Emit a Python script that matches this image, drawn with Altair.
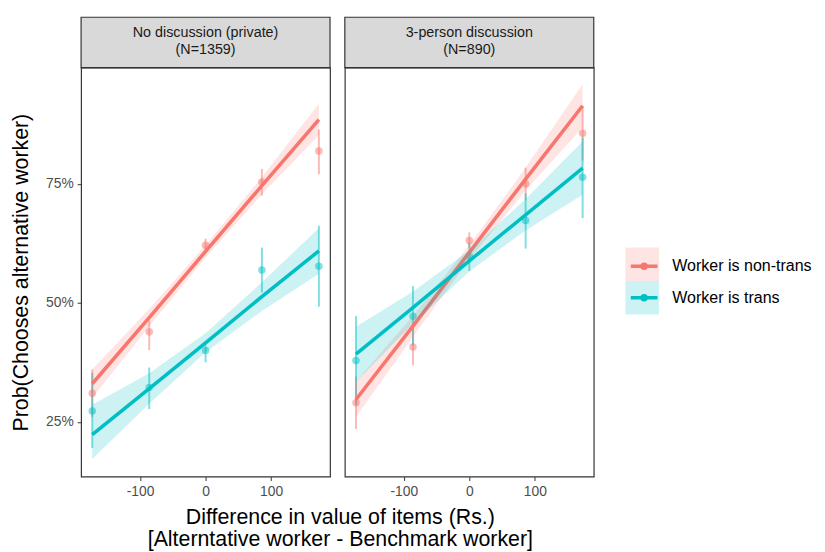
import altair as alt
import pandas as pd

# ---------------- data ----------------
panels = ["No discussion (private)", "3-person discussion"]
panel_n = ["(N=1359)", "(N=890)"]
groups = ["Worker is non-trans", "Worker is trans"]
colors = ["#F8766D", "#00BFC4"]
x_vals = [-173, -86, 0, 86, 173]

# observed shares (%) with intervals
p1_nt_mean = [31.0, 43.9, 62.1, 75.4, 81.9]
p1_nt_lo = [26.0, 40.1, 60.5, 72.5, 77.0]
p1_nt_hi = [36.0, 46.3, 63.5, 78.1, 86.4]
p1_tr_mean = [27.3, 32.2, 40.0, 56.9, 57.7]
p1_tr_lo = [19.5, 27.7, 37.5, 52.2, 49.2]
p1_tr_hi = [35.3, 36.4, 41.1, 61.6, 66.2]
p2_nt_mean = [29.0, 40.7, 63.1, 75.0, 85.6]
p2_nt_lo = [23.5, 36.9, 61.6, 71.6, 79.9]
p2_nt_hi = [34.5, 45.3, 64.8, 78.4, 91.3]
p2_tr_mean = [37.9, 47.2, 59.8, 67.3, 76.4]
p2_tr_lo = [28.6, 41.0, 56.7, 61.4, 67.8]
p2_tr_hi = [47.2, 53.5, 62.6, 73.0, 84.7]

# linear fits (%) with confidence band
p1_nt_fit = [33.0, 46.9, 60.8, 74.6, 88.5]
p1_nt_fit_lo = [30.0, 45.1, 59.5, 72.8, 85.2]
p1_nt_fit_hi = [36.0, 48.7, 62.1, 76.4, 91.8]
p1_tr_fit = [22.3, 32.0, 41.6, 51.3, 60.9]
p1_tr_fit_lo = [17.2, 28.8, 39.6, 48.3, 56.1]
p1_tr_fit_hi = [28.6, 35.2, 43.6, 54.3, 65.7]
p2_nt_fit = [29.7, 45.1, 60.6, 76.0, 91.4]
p2_nt_fit_lo = [26.0, 42.9, 59.1, 73.6, 86.9]
p2_nt_fit_hi = [33.4, 47.3, 62.1, 78.4, 95.9]
p2_tr_fit = [39.2, 49.0, 58.8, 68.5, 78.3]
p2_tr_fit_lo = [33.4, 45.6, 56.6, 65.2, 72.7]
p2_tr_fit_hi = [45.0, 52.4, 61.0, 71.8, 83.9]

series = [
    (panels[0], groups[0], "obs", p1_nt_mean, p1_nt_lo, p1_nt_hi),
    (panels[0], groups[1], "obs", p1_tr_mean, p1_tr_lo, p1_tr_hi),
    (panels[1], groups[0], "obs", p2_nt_mean, p2_nt_lo, p2_nt_hi),
    (panels[1], groups[1], "obs", p2_tr_mean, p2_tr_lo, p2_tr_hi),
    (panels[0], groups[0], "fit", p1_nt_fit, p1_nt_fit_lo, p1_nt_fit_hi),
    (panels[0], groups[1], "fit", p1_tr_fit, p1_tr_fit_lo, p1_tr_fit_hi),
    (panels[1], groups[0], "fit", p2_nt_fit, p2_nt_fit_lo, p2_nt_fit_hi),
    (panels[1], groups[1], "fit", p2_tr_fit, p2_tr_fit_lo, p2_tr_fit_hi),
]
rows = []
for panel, grp, kind, ys, los, his in series:
    for x, y, lo, hi in zip(x_vals, ys, los, his):
        rows.append(dict(panel=panel, grp=grp, kind=kind, x=x, y=y, lo=lo, hi=hi))
df = pd.DataFrame(rows)

# ---------------- chart ----------------
W, H, STRIP = 252, 414, 51
FONT = "Liberation Sans"
XTITLE = ["Difference in value of items (Rs.)", "[Alterntative worker - Benchmark worker]"]
YTITLE = "Prob(Chooses alternative worker)"

xenc = alt.X("x:Q", title=None,
             scale=alt.Scale(domain=[-190, 190], nice=False, zero=False),
             axis=alt.Axis(values=[-100, 0, 100], labelExpr="'' + datum.value"))

legend_bg = alt.Legend(orient="none", legendX=551, legendY=182, title=None,
                       symbolType="square", symbolSize=1156, symbolOpacity=0.2,
                       symbolStrokeWidth=0, labelExpr="''", rowPadding=0,
                       labelFontSize=16, labelFont=FONT)
legend_line = alt.Legend(orient="none", legendX=554.5, legendY=185.5, title=None,
                         symbolType="M-1,0H1M0.15,0A0.15,0.15,0,1,1,-0.15,0A0.15,0.15,0,1,1,0.15,0",
                         symbolSize=729, symbolStrokeWidth=3.5, rowPadding=7,
                         labelFontSize=16.2, labelFont=FONT, labelColor="black",
                         labelOffset=13)


def panel_chart(i):
    pdata = df[df["panel"] == panels[i]]
    strip_df = pd.DataFrame({"title": [panels[i]], "n": [panel_n[i]]})
    if i == 0:
        yaxis = alt.Axis(values=[25, 50, 75], labelExpr="datum.value + '%'")
        ytitle = YTITLE
    else:
        yaxis = None
        ytitle = None

    def yenc(field):
        return alt.Y(f"{field}:Q", title=ytitle,
                     scale=alt.Scale(domain=[13.5, 99.4], nice=False, zero=False),
                     axis=yaxis)

    pt_color = alt.Color("grp:N", scale=alt.Scale(domain=groups, range=colors), legend=None)

    strip_rect = alt.Chart(strip_df).mark_rect(
        fill="#D9D9D9", stroke="#333333", strokeWidth=1.2
    ).encode(x=alt.value(0), x2=alt.value(W), y=alt.value(-STRIP), y2=alt.value(0))
    strip_t1 = alt.Chart(strip_df).mark_text(
        font=FONT, fontSize=14.5, color="#1A1A1A", baseline="middle"
    ).encode(x=alt.value(W / 2), y=alt.value(-STRIP + 16), text="title:N")
    strip_t2 = alt.Chart(strip_df).mark_text(
        font=FONT, fontSize=14.5, color="#1A1A1A", baseline="middle"
    ).encode(x=alt.value(W / 2), y=alt.value(-STRIP + 33), text="n:N")

    obs = alt.Chart(pdata).transform_filter("datum.kind == 'obs'")
    errbars = obs.mark_rule(strokeWidth=2, opacity=0.5).encode(
        x=xenc, y=yenc("lo"), y2="hi:Q", color=pt_color)
    points = obs.mark_circle(size=58, opacity=0.5).encode(
        x=xenc, y=yenc("y"), color=pt_color)

    layers = [strip_rect, strip_t1, strip_t2, errbars, points]
    for g in groups:
        fit = alt.Chart(pdata).transform_filter(
            f"datum.kind == 'fit' && datum.grp == '{g}'")
        band = fit.transform_calculate(grp_bg="datum.grp").mark_area(opacity=0.2).encode(
            x=xenc, y=yenc("lo"), y2="hi:Q",
            fill=alt.Fill("grp_bg:N", scale=alt.Scale(range=colors), legend=legend_bg),
        )
        line = fit.mark_line(strokeWidth=3.6).encode(
            x=xenc, y=yenc("y"),
            stroke=alt.Stroke("grp:N", scale=alt.Scale(range=colors), legend=legend_line),
        )
        layers += [band, line]
    return alt.layer(*layers).properties(width=W, height=H)


chart = alt.hconcat(panel_chart(0), panel_chart(1), spacing=11).resolve_scale(
    x="shared", y="shared", color="shared", fill="shared", stroke="shared"
).resolve_legend(fill="shared", stroke="shared").properties(
    title=alt.TitleParams(text=XTITLE, orient="bottom", anchor="middle",
                          font=FONT, fontSize=21.6, fontWeight="normal",
                          color="black", lineHeight=22.5, offset=8, dx=-71.5),
    padding={"left": 2, "top": 4, "right": 5, "bottom": 2},
    background="white",
).configure_view(
    stroke="#333333", strokeWidth=1.2
).configure_axis(
    domain=False, grid=False, tickColor="#333333", tickSize=4, tickWidth=1,
    labelColor="#4D4D4D", labelFontSize=14, labelFont=FONT, labelPadding=4,
    titleFont=FONT, titleFontSize=21.6, titleFontWeight="normal", titleColor="black",
    titlePadding=13,
)

chart.save("out.html", embed_options={"renderer": "svg", "actions": False})
